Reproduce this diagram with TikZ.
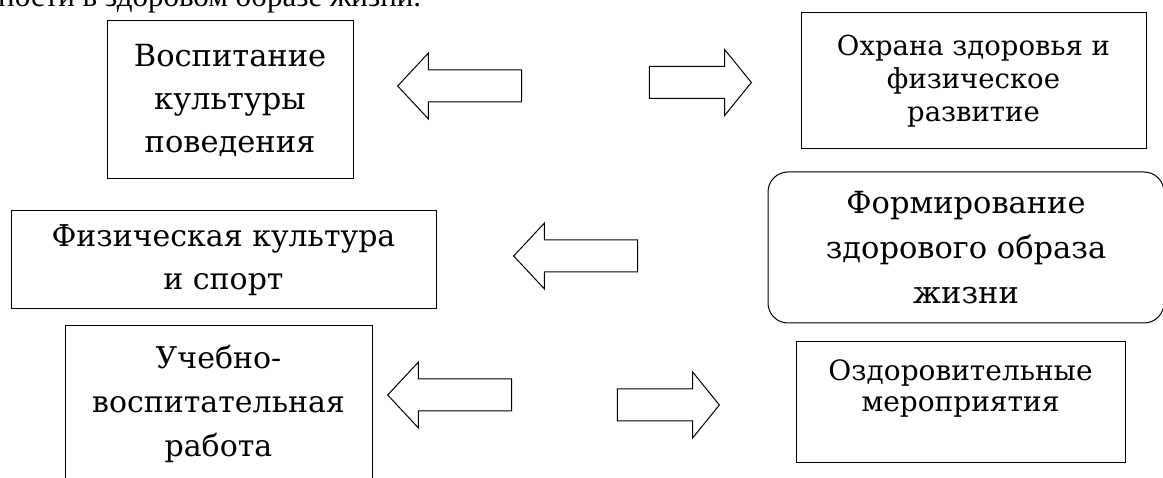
\documentclass[tikz,border=0pt]{standalone}
\usepackage{fontspec}
\setmainfont{DejaVu Serif}
\newfontfamily\timesfont{Liberation Serif}
\usepackage{tikz}
\usetikzlibrary{shapes.arrows}

\begin{document}
\begin{tikzpicture}[x=1pt, y=-1pt,
    box/.style={rectangle, draw=black, line width=1pt, align=center, inner sep=0pt},
    roundbox/.style={box, rounded corners=20pt},
    bigtext/.style={font=\fontsize{30}{43}\selectfont},
    blockarrow/.style={single arrow, draw=black, line width=1pt, inner xsep=0pt, inner ysep=15.5pt, single arrow head extend=17pt, anchor=tip},
    larrow/.style={blockarrow, shape border rotate=180, minimum height=124pt, single arrow tip angle=94},
    rarrow/.style={blockarrow, minimum height=102pt, single arrow tip angle=102}
    ]
    \useasboundingbox (0,0) rectangle (1163,478);
    \clip (0,0) rectangle (1163,478);
    % Nodes
    \node[anchor=base west, inner sep=0pt, font={\timesfont\fontsize{31}{33}\selectfont}] (intro) at (-2,7) {ности в здоровом образе жизни.};
    \node[box, font=\fontsize{30.5}{43}\selectfont, minimum width=246pt, minimum height=158pt] (B1) at (230,100) {Воспитание\\культуры\\поведения};
    \node[box, font=\fontsize{27.5}{33}\selectfont, minimum width=345pt, minimum height=136pt] (B2) at (973.5,81) {Охрана здоровья и\\физическое\\развитие};
    \node[roundbox, font=\fontsize{30.5}{45}\selectfont, minimum width=396pt, minimum height=151pt] (B3) at (966,247.5) {Формирование\\здорового образа\\жизни};
    \node[box, bigtext, minimum width=425pt, minimum height=98pt] (B4) at (223.5,260) {Физическая культура\\и спорт};
    \node[box, font=\fontsize{30}{44}\selectfont, minimum width=307pt, minimum height=156pt] (B5) at (218.5,404) {Учебно-\\воспитательная\\работа};
    \node[box, font=\fontsize{28}{31}\selectfont, text depth=34pt, minimum width=329pt, minimum height=121pt] (B6) at (960.5,402.5) {Оздоровительные\\мероприятия};
    % Arrows
    \node[larrow] (A1) at (397,86) {};
    \node[rarrow] (A2) at (752,82.5) {};
    \node[larrow] (A3) at (513,256) {};
    \node[larrow] (A4) at (387,395) {};
    \node[rarrow] (A5) at (720,405) {};
\end{tikzpicture}
\end{document}
